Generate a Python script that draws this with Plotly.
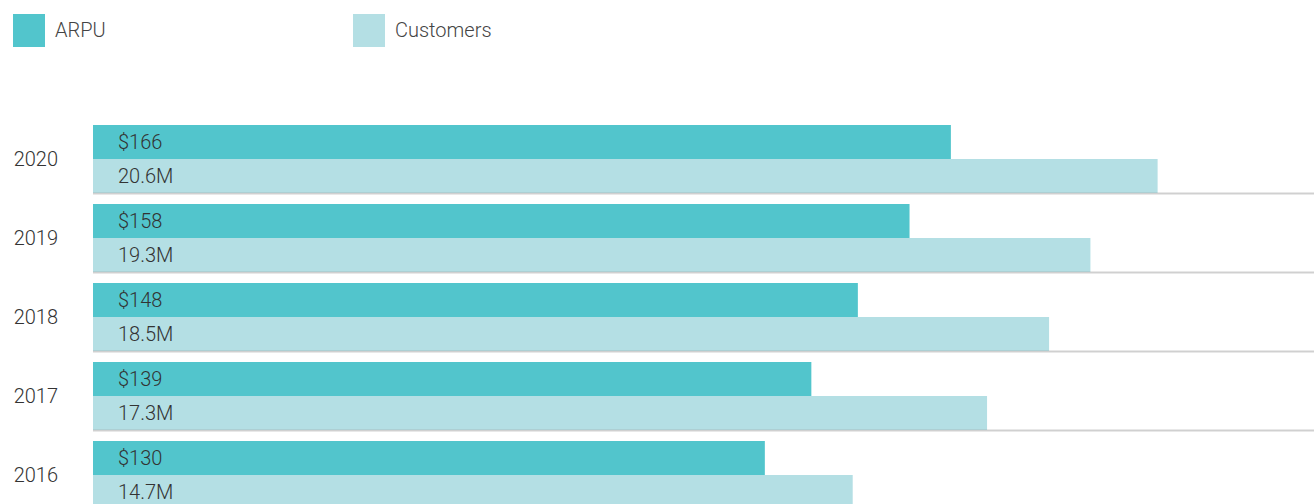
import plotly.graph_objects as go

years = ["2020", "2019", "2018", "2017", "2016"]
arpu = [166, 158, 148, 139, 130]
customers = [20.6, 19.3, 18.5, 17.3, 14.7]  # millions
arpu_labels = ["$166", "$158", "$148", "$139", "$130"]
cust_labels = ["20.6M", "19.3M", "18.5M", "17.3M", "14.7M"]

C_ARPU = "#52C5CC"
C_CUST = "#B4DFE4"
FONT = "Roboto"
WEIGHT = 300
TXT = "#333333"
FS = 20

BARGAP = 11 / 79
CUST_SCALE = 10  # customers (M) drawn on the same axis as ARPU: 1M == 10 units

fig = go.Figure()
fig.add_trace(go.Bar(y=years, x=arpu, orientation="h", name="ARPU",
                     marker=dict(color=C_ARPU, line=dict(width=0)),
                     hoverinfo="skip"))
fig.add_trace(go.Bar(y=years, x=[c * CUST_SCALE for c in customers], orientation="h",
                     name="Customers",
                     marker=dict(color=C_CUST, line=dict(width=0)),
                     hoverinfo="skip"))

xmax = 1221 / 5.168
half = (1 - BARGAP) / 2
shapes = []
annotations = []
lab_font = dict(family=FONT, size=FS, color=TXT, weight=WEIGHT)
for i, yr in enumerate(years):
    shapes.append(dict(type="line", xref="paper", x0=0, x1=1, yref="y",
                       y0=i + half + 0.005, y1=i + half + 0.005, layer="above",
                       line=dict(color="rgba(150,150,150,0.45)", width=2)))
    annotations.append(dict(x=0, y=i - half / 2, xref="paper", yref="y", xanchor="left",
                            yanchor="middle", xshift=23, showarrow=False,
                            text=arpu_labels[i], font=lab_font))
    annotations.append(dict(x=0, y=i + half / 2, xref="paper", yref="y", xanchor="left",
                            yanchor="middle", xshift=23, showarrow=False,
                            text=cust_labels[i], font=lab_font))

# custom legend
legend_items = [("ARPU", C_ARPU, 13), ("Customers", C_CUST, 353)]
for name, col, px in legend_items:
    shapes.append(dict(type="rect", xref="paper", yref="paper",
                       x0=(px - 93) / 1221, x1=(px + 32 - 93) / 1221,
                       y0=1 + (100 - 47) / 404, y1=1 + (100 - 14) / 404,
                       fillcolor=col, line=dict(width=0), layer="above"))
    annotations.append(dict(xref="paper", yref="paper", x=(px + 40 - 93) / 1221,
                            y=1 + (100 - 30) / 404, xanchor="left", yanchor="middle",
                            showarrow=False, text=name,
                            font=dict(family=FONT, size=FS, color="#444444", weight=WEIGHT)))

fig.update_layout(
    width=1314, height=504,
    margin=dict(l=93, r=0, t=100, b=0),
    paper_bgcolor="white", plot_bgcolor="white",
    barmode="group", bargap=BARGAP, bargroupgap=0,
    showlegend=False,
    font=dict(family=FONT, size=FS, color=TXT, weight=WEIGHT),
    xaxis=dict(range=[0, xmax], visible=False, fixedrange=True),
    yaxis=dict(type="category", categoryorder="array", categoryarray=years,
               range=[4 + 29 / 79, -59 / 79], showgrid=False, zeroline=False,
               ticks="", ticklabelstandoff=34, showline=False,
               tickfont=dict(family=FONT, size=FS, color=TXT, weight=WEIGHT)),
    shapes=shapes, annotations=annotations,
)

fig.write_html("out.html")
